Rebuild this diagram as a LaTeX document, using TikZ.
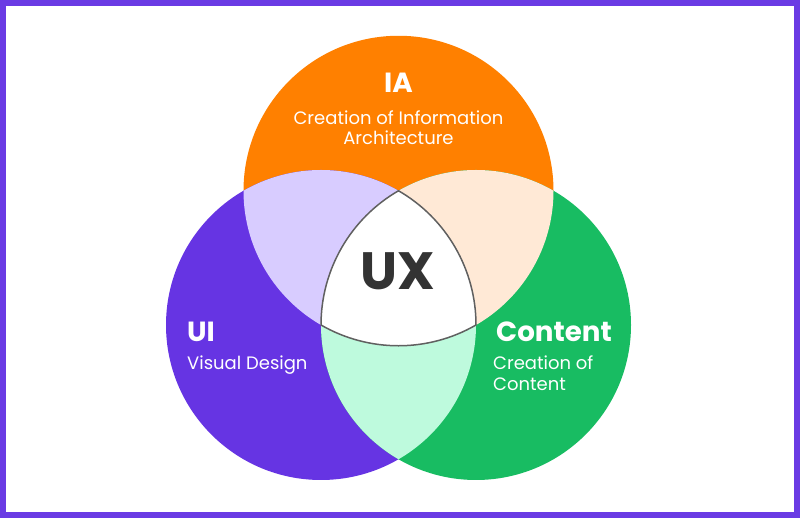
\documentclass[tikz,border=0pt]{standalone}
\usepackage{fontspec}
\setmainfont{Poppins}
\definecolor{iaorange}{HTML}{FF8000}
\definecolor{uipurple}{HTML}{6634E3}
\definecolor{ctgreen}{HTML}{18BC62}
\definecolor{lavender}{HTML}{D8CCFF}
\definecolor{peach}{HTML}{FFE9D6}
\definecolor{mint}{HTML}{BEFADD}
\definecolor{edgegray}{HTML}{606060}
\definecolor{uxtext}{HTML}{333333}
\definecolor{framepurple}{HTML}{6A3BE4}
\tikzset{
  head/.style={text=white, inner sep=0pt, font=\fontsize{27.7}{30}\selectfont\bfseries},
  body/.style={text=white, inner sep=0pt, font=\fontsize{18}{21}\selectfont},
}
\begin{document}
\begin{tikzpicture}[x=1pt,y=1pt]
\useasboundingbox (0,0) rectangle (800,518);
\fill[white] (0,0) rectangle (800,518);
\draw[framepurple, line width=6pt] (3,3) rectangle (797,515);
% centres
\coordinate (O) at (398.5,327.23);
\coordinate (P) at (321,193);
\coordinate (G) at (476,193);
\def\R{155}
% full circles
\fill[iaorange] (O) circle (\R);
\fill[uipurple] (P) circle (\R);
\fill[ctgreen] (G) circle (\R);
% pairwise overlaps
\begin{scope}\clip (O) circle (\R); \fill[lavender] (P) circle (\R); \end{scope}
\begin{scope}\clip (O) circle (\R); \fill[peach] (G) circle (\R); \end{scope}
\begin{scope}\clip (P) circle (\R); \fill[mint] (G) circle (\R); \end{scope}
% triple overlap (Reuleaux triangle)
\filldraw[fill=white, draw=edgegray, line width=1.5pt, line join=round]
  (P) arc[start angle=180, end angle=120, radius=\R]
      arc[start angle=60, end angle=0, radius=\R]
      arc[start angle=-60, end angle=-120, radius=\R] -- cycle;
% texts
\node[head, anchor=base] (ia) at (398.5,425.7) {IA};
\node[body, anchor=base] (ia1) at (398.5,393.7) {Creation of Information};
\node[body, anchor=base] (ia2) at (398.5,373) {Architecture};
\node[text=uxtext, inner sep=0pt, anchor=base, font=\fontsize{52.5}{60}\selectfont\bfseries] (ux) at (398,228) {UX};
\node[head, anchor=base west] (ui) at (187,176.3) {UI};
\node[body, anchor=base west] (ui1) at (187,148.7) {Visual Design};
\node[head, anchor=base west] (ct) at (496,176) {Content};
\node[body, anchor=base west] (ct1) at (493,148) {Creation of};
\node[body, anchor=base west] (ct2) at (493,127.3) {Content};
\end{tikzpicture}
\end{document}
